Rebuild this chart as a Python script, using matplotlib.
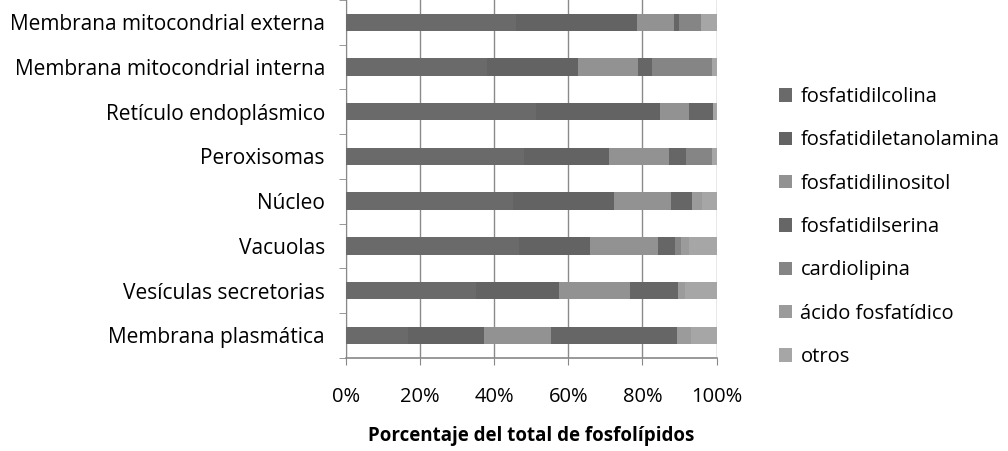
import numpy as np
import matplotlib
matplotlib.use("Agg")
import matplotlib.pyplot as plt
from matplotlib.ticker import FuncFormatter

plt.rcParams['font.family'] = ['Open Sans', 'DejaVu Sans']

# categorias (de arriba a abajo)
orgánulos = ["Membrana mitocondrial externa", "Membrana mitocondrial interna",
             "Retículo endoplásmico", "Peroxisomas", "Núcleo", "Vacuolas",
             "Vesículas secretorias", "Membrana plasmática"]

lipidos = ["fosfatidilcolina", "fosfatidiletanolamina", "fosfatidilinositol",
           "fosfatidilserina", "cardiolipina", "ácido fosfatídico", "otros"]

# porcentajes
pc    = [45.8, 38.2, 51.3, 48.1, 45.1, 46.7, 35.1, 16.7]
pe    = [32.6, 24.4, 33.5, 23.0, 27.2, 19.2, 22.3, 20.5]
pi    = [10.1, 16.1, 7.7, 16.0, 15.4, 18.4, 19.3, 18.1]
ps    = [1.3, 3.8, 6.4, 4.6, 5.7, 4.5, 12.9, 33.9]
cl    = [6.1, 16.2, 0.0, 7.0, 0.0, 1.5, 0.0, 0.0]
pa    = [0.0, 0.0, 0.0, 0.0, 2.6, 2.2, 1.8, 4.0]
otros = [4.1, 1.3, 1.1, 1.3, 4.0, 7.5, 8.6, 6.8]

series = [pc, pe, pi, ps, cl, pa, otros]
colores = ["#6a6a6a", "#636363", "#929292", "#666666", "#858585", "#9b9b9b", "#a6a6a6"]

fig = plt.figure(figsize=(10.08, 4.51), dpi=100)
ax = fig.add_axes([0.343, 0.207, 0.368, 0.793])

y = np.arange(len(orgánulos))
izq = np.zeros(len(orgánulos))
for datos, nombre, c in zip(series, lipidos, colores):
    total = np.array(datos)
    ax.barh(y, total, left=izq, height=0.39, color=c, label=nombre, zorder=3)
    izq = izq + total

ax.set_xlim(0, 100)
ax.set_ylim(len(orgánulos) - 0.5, -0.5)
ax.set_xticks([0, 20, 40, 60, 80, 100])
ax.xaxis.set_major_formatter(FuncFormatter(lambda v, p: f"{int(v)}%"))
ax.set_yticks(y)
ax.set_yticklabels(orgánulos, fontsize=15)
ax.set_yticks(np.arange(-0.5, len(orgánulos), 1), minor=True)
ax.tick_params(axis='y', which='major', length=0, pad=15)
ax.tick_params(axis='y', which='minor', length=5, color="#888888", direction='out')
ax.tick_params(axis='x', length=5, color="#888888", labelsize=14.5, pad=16)
ax.grid(axis='x', color="#8a8a8a", linewidth=1, zorder=0)

for s in ["top", "right"]:
    ax.spines[s].set_visible(False)
ax.spines["left"].set_color("#888888")
ax.spines["bottom"].set_color("#888888")
ax.spines["bottom"].set_linewidth(1.2)

ax.set_xlabel("Porcentaje del total de fosfolípidos", fontsize=13.5, fontweight="bold", labelpad=14)

leg = ax.legend(loc="center left", bbox_to_anchor=(1.12, 0.365), frameon=False,
                fontsize=14.5, handlelength=0.65, handleheight=0.65, handletextpad=0.4,
                labelspacing=1.16)

plt.savefig("out.png", dpi=100)
